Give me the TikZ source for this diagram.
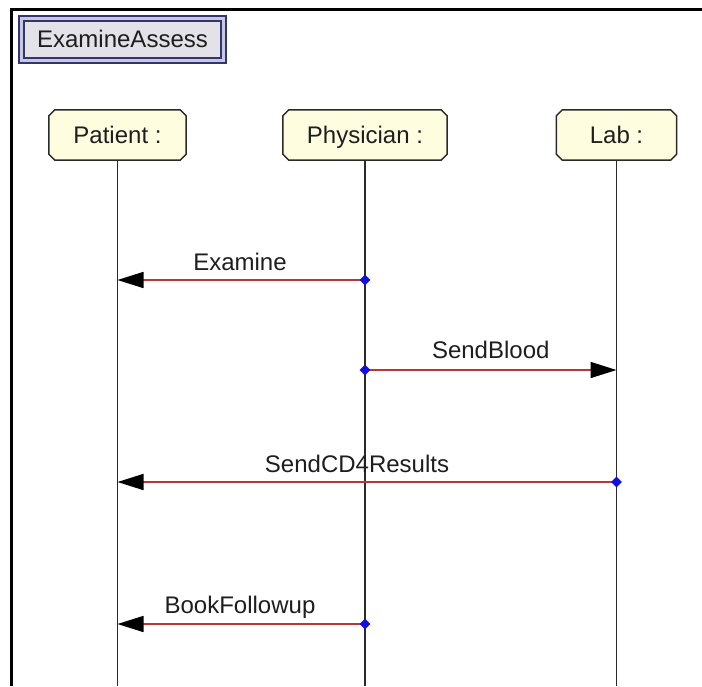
\documentclass[tikz,border=0pt]{standalone}
\usepackage{fontspec}
\setmainfont{Liberation Sans}
\usetikzlibrary{arrows.meta,shapes.geometric,calc,backgrounds}

\definecolor{ink}{HTML}{1E1E1E}
\definecolor{msgred}{HTML}{B83838}
\definecolor{dotblue}{HTML}{1010E0}
\definecolor{roleyellow}{HTML}{FFFDE0}
\definecolor{rolestroke}{HTML}{2A2A2A}
\definecolor{framenavy}{HTML}{34346E}
\definecolor{frameband}{HTML}{C8C8E0}
\definecolor{framefill}{HTML}{E2E2E8}

\begin{document}
\begin{tikzpicture}[x=1pt,y=-1pt,
  txt/.style={font=\fontsize{24}{28}\selectfont, text=ink},
  titlebox/.style={txt, draw=framenavy, line width=2pt, double=frameband,
    double distance=3pt, fill=framefill, minimum width=202pt,
    minimum height=42pt, inner sep=0pt, text height=16pt, text depth=0pt},
  rolelabel/.style={txt, inner sep=0pt, minimum height=50pt,
    text height=17pt, text depth=0pt},
  roleoutline/.style={draw=rolestroke, line width=1.5pt, fill=roleyellow},
  lifeline/.style={draw=rolestroke, line width=1.6pt},
  msg/.style={draw=msgred, line width=1.6pt,
    -{Triangle[length=26pt,width=16pt,black]}},
  msglabel/.style={txt, anchor=base, inner sep=0pt},
  srcdot/.style={diamond, fill=dotblue, inner sep=0pt, minimum size=11pt}]

  \useasboundingbox (0,0) rectangle (702,686);

  % diagram frame (top and left edges), as solid bars
  \fill[black] (10,8) rectangle (12.6,686);
  \fill[black] (10,8) rectangle (702,10.5);

  % frame title
  \node[titlebox] (title) at (122.5,39.5) {ExamineAssess};

  % participants
  \node[rolelabel, minimum width=137pt] (patient)   at (117.5,135) {Patient :};
  \node[rolelabel, minimum width=164pt] (physician) at (365,135)   {Physician :};
  \node[rolelabel, minimum width=120pt] (lab)       at (616.5,135) {Lab :};

  \begin{scope}[on background layer]
    \fill[white] (0,0) rectangle (702,686);
    \foreach \n in {patient,physician,lab}
      \draw[roleoutline]
        ($(\n.north west)+(6,0)$) -- ($(\n.north east)+(-6,0)$) --
        ($(\n.north east)+(0,6)$) -- ($(\n.south east)+(0,-6)$) --
        ($(\n.south east)+(-6,0)$) -- ($(\n.south west)+(6,0)$) --
        ($(\n.south west)+(0,-6)$) -- ($(\n.north west)+(0,6)$) -- cycle;
  \end{scope}

  % lifelines
  \coordinate (bottom) at (0,686);
  \foreach \n in {patient,physician,lab}
    \draw[lifeline] (\n.south) -- (\n.south |- bottom);

  % message rows
  \coordinate (y1) at (0,280);
  \coordinate (y2) at (0,370);
  \coordinate (y3) at (0,482);
  \coordinate (y4) at (0,624);

  \draw[msg] (physician |- y1) -- (patient |- y1)
    node[msglabel, pos=0.505, yshift=10pt] (l1) {Examine};
  \draw[msg] (physician |- y2) -- (lab |- y2)
    node[msglabel, pos=0.5, yshift=12pt] (l2) {SendBlood};
  \draw[msg] (lab |- y3) -- (patient |- y3)
    node[msglabel, pos=0.52, yshift=10pt] (l3) {SendCD4Results};
  \draw[msg] (physician |- y4) -- (patient |- y4)
    node[msglabel, pos=0.505, yshift=11pt] (l4) {BookFollowup};

  % message sources
  \node[srcdot] (s1) at (physician |- y1) {};
  \node[srcdot] (s2) at (physician |- y2) {};
  \node[srcdot] (s3) at (lab |- y3) {};
  \node[srcdot] (s4) at (physician |- y4) {};
\end{tikzpicture}
\end{document}
